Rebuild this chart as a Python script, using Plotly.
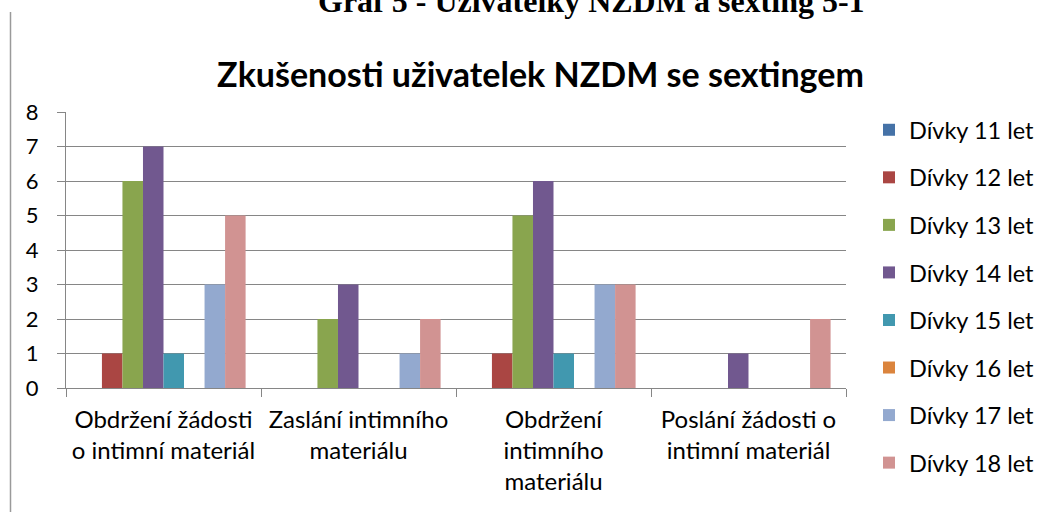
import plotly.graph_objects as go

categories = ["Obdržení žádosti<br>o intimní materiál", "Zaslání intimního<br>materiálu",
              "Obdržení<br>intimního<br>materiálu", "Poslání žádosti o<br>intimní materiál"]
series_names = ["Dívky 11 let", "Dívky 12 let", "Dívky 13 let", "Dívky 14 let",
                "Dívky 15 let", "Dívky 16 let", "Dívky 17 let", "Dívky 18 let"]
divky_11 = [0, 0, 0, 0]
divky_12 = [1, 0, 1, 0]
divky_13 = [6, 2, 5, 0]
divky_14 = [7, 3, 6, 1]
divky_15 = [1, 0, 1, 0]
divky_16 = [0, 0, 0, 0]
divky_17 = [3, 1, 3, 0]
divky_18 = [5, 2, 3, 2]
y_ticks = [0, 1, 2, 3, 4, 5, 6, 7, 8]

values = [divky_11, divky_12, divky_13, divky_14, divky_15, divky_16, divky_17, divky_18]
colors = ["#4572A7", "#AA4643", "#89A54E", "#71588F", "#4198AF", "#DB843D", "#93A9CF", "#D19392"]

FONT = "Lato"
W, H = 1051, 512
L, R, T, B = 66, 205, 112, 124
pw = W - L - R
ph = H - T - B

fig = go.Figure()
for name, vals, col in zip(series_names, values, colors):
    fig.add_trace(go.Bar(x=categories, y=vals, name=name, marker=dict(color=col, line=dict(width=0)),
                         legendgroup=name))

def px_x(x):
    return (x - L) / pw

def px_y(y):
    return (H - B - y) / ph

fig.update_layout(
    width=W, height=H,
    margin=dict(l=L, r=R, t=T, b=B, pad=0, autoexpand=False),
    paper_bgcolor="white", plot_bgcolor="white",
    barmode="group", bargap=0.158, bargroupgap=0,
    font=dict(family=FONT, color="black"),
    title=dict(text="<b>Zkušenosti uživatelek NZDM se sextingem</b>",
               x=540.5 / W, xanchor="center", y=1 - 75 / H, yanchor="middle",
               font=dict(family=FONT, size=34, color="black")),
    showlegend=True,
    legend=dict(x=px_x(869), xanchor="left", y=px_y(108), yanchor="top",
                font=dict(family=FONT, size=23.5, color="black"),
                tracegroupgap=14, bgcolor="rgba(0,0,0,0)", maxheight=700),
    xaxis=dict(type="category", showgrid=False, showline=True, linecolor="#868686", linewidth=1.2,
               ticks="outside", ticklen=8, tickcolor="#868686", tickwidth=1.2,
               tickson="boundaries", tickangle=0, automargin=False,
               tickfont=dict(family=FONT, size=24, color="black"),
               ticklabelstandoff=10, fixedrange=True),
    yaxis=dict(range=[0, 8], tickvals=y_ticks, showgrid=True, gridcolor="#868686", gridwidth=1.2,
               showline=True, linecolor="#868686", linewidth=1.2, zeroline=False, automargin=False,
               ticks="outside", ticklen=8, tickcolor="#868686", tickwidth=1.2,
               tickfont=dict(family=FONT, size=22, color="black"), ticklabelstandoff=14,
               fixedrange=True),
    annotations=[dict(text="<b>Graf 5 - Uživatelky NZDM a sexting 5-1</b>", xref="paper", yref="paper",
                      x=px_x(591.5), y=px_y(0.5), xanchor="center", yanchor="middle", showarrow=False,
                      font=dict(family="Liberation Serif", size=32, color="black"))],
    shapes=[dict(type="line", xref="paper", yref="paper", x0=px_x(10.5), x1=px_x(10.5),
                 y0=px_y(12), y1=px_y(512), line=dict(color="#9a9a9a", width=1.5))],
)

fig.write_html("out.html", config={"displayModeBar": False},
               post_script="document.body.style.margin='0';document.body.style.overflow='hidden';")
